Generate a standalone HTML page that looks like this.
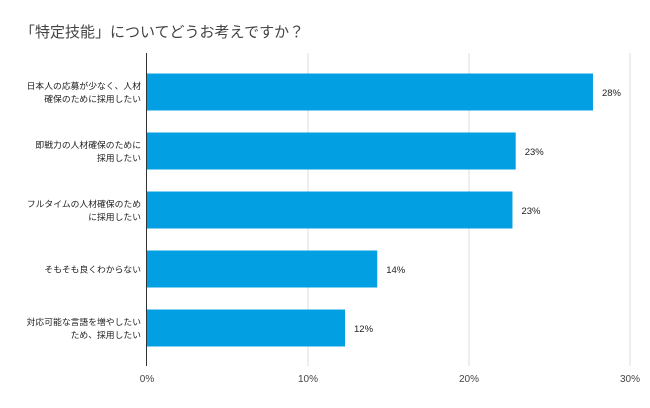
<!DOCTYPE html>
<html><head><meta charset="utf-8"><style>
body{margin:0;background:#fff;}
svg text{font-family:"Liberation Sans","Noto Sans CJK JP",sans-serif;}
</style></head><body>
<svg id="chart" width="650" height="403" xmlns="http://www.w3.org/2000/svg">
<rect width="650" height="403" fill="#fff"/>
<text x="20" y="37" font-size="15" fill="#444">「特定技能」についてどうお考えですか？</text>
<g id="grid"></g><g id="bars"></g><g id="labels"></g>
</svg>
<script>
const categories=[["日本人の応募が少なく、人材","確保のために採用したい"],["即戦力の人材確保のために","採用したい"],["フルタイムの人材確保のため","に採用したい"],["そもそも良くわからない"],["対応可能な言語を増やしたい","ため、採用したい"]];
const values=[27.7,22.9,22.7,14.3,12.3];
const valueLabels=["28%","23%","23%","14%","12%"];
const ticks=[0,10,20,30];
const tickLabels=["0%","10%","20%","30%"];
const NS="http://www.w3.org/2000/svg";
const x0=147,pxPer=16.1,yTop=53,yBottom=366,firstCenter=92,band=59,barH=37;
const xs=v=>x0+v*pxPer;
function mk(t,a,p){const e=document.createElementNS(NS,t);for(const k in a)e.setAttribute(k,a[k]);p.appendChild(e);return e;}
const grid=document.getElementById('grid'),bars=document.getElementById('bars'),labels=document.getElementById('labels');
ticks.forEach((t,i)=>{
  if(t>0){const l=mk('line',{x1:xs(t),x2:xs(t),y1:yTop,y2:yBottom,stroke:'#ddd','stroke-width':1},grid);
  
  }
  const tx=mk('text',{x:xs(t),y:382,'font-size':10,fill:'#444','text-anchor':'middle'},labels);
  tx.textContent=tickLabels[i];
  
  
});
values.forEach((v,i)=>{
  const cy=firstCenter+band*i;
  const r=mk('rect',{x:x0,y:cy-barH/2,width:xs(v)-x0,height:barH,fill:'#039fe3'},bars);
  
  
  const vl=mk('text',{x:xs(v)+9,y:cy+4,'font-size':9.5,fill:'#222'},labels);
  vl.textContent=valueLabels[i];
  
  
  const lines=categories[i];
  lines.forEach((s,j)=>{
    const y=cy+3.5+(j-(lines.length-1)/2)*13;
    const c=mk('text',{x:141,y:y,'font-size':8.8,fill:'#222','text-anchor':'end'},labels);
    c.textContent=s;
    
    
  });
});
const ax=mk('line',{x1:x0-0.5,x2:x0-0.5,y1:yTop,y2:yBottom,stroke:'#333','stroke-width':1},labels);


</script>
</body></html>
